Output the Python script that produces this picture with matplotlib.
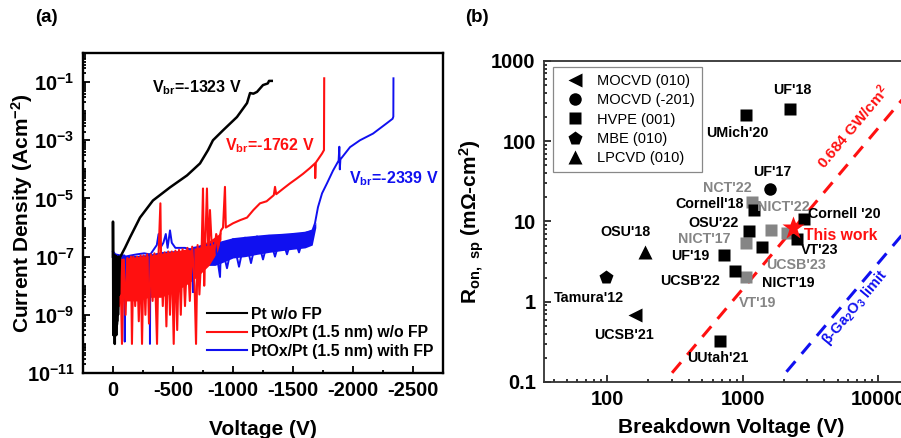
import numpy as np
import matplotlib
matplotlib.use('Agg')
import matplotlib.pyplot as plt
from matplotlib.lines import Line2D
from matplotlib.ticker import LogLocator, NullFormatter, MultipleLocator

# ---- panel (a): J-V curves ----
black_v = [0, 0, -3, -6, -9, -12, -15, -18, -21, -24, -27, -30, -34, -38, -42, -46, -50, -58,
           -100, -142, -225, -333, -475, -617, -725, -792, -833, -917, -1033, -1117, -1142,
           -1170, -1200, -1250, -1290, -1300, -1323]
black_j = [1e-7, 1.6e-6, 2e-10, 1e-7, 3e-10, 9e-8, 1e-10, 1.1e-7, 4e-10, 8e-8, 2e-10, 1e-7, 6e-10,
           9e-8, 1e-9, 1e-7, 5e-9, 9.3e-8, 2e-7, 4.6e-7, 2.2e-6, 8.5e-6, 2.4e-5, 6.2e-5, 1.6e-4,
           4.6e-4, 1e-3, 2.2e-3, 6.3e-3, 1.9e-2, 4.2e-2, 4.0e-2, 4.6e-2, 7.9e-2, 9e-2, 1.1e-1, 1.1e-1]
black_band_v = [-2, -10, -20, -30, -40, -48]
black_band_lo = [3e-10, 2e-10, 3e-10, 3e-10, 5e-10, 2e-9]
black_band_hi = [1.2e-7, 1.1e-7, 1.1e-7, 1.1e-7, 1.1e-7, 1e-7]

red_v = [-10, -15, -22, -30, -40, -50, -60, -75, -90, -105, -120, -135, -150, -158, -170, -185,
         -200, -215, -230, -242, -255, -270, -285, -300, -315, -330, -345, -367, -380, -395, -400,
         -415, -430, -445, -460, -475, -490, -506, -520, -535, -550, -565, -580, -600, -620, -640,
         -660, -680, -692, -705, -720, -740, -750, -760, -770, -783, -795, -808, -820, -840, -860,
         -880, -900, -917, -933, -940, -1000, -1060, -1117, -1170, -1225, -1280, -1340, -1350,
         -1360, -1420, -1475, -1530, -1583, -1640, -1683, -1685, -1690, -1742, -1758, -1760]
red_j = [1e-7, 3e-10, 8e-8, 5e-9, 9e-8, 2e-9, 1e-7, 1e-10, 8e-8, 1e-9, 9e-8, 4e-9, 1e-7, 1e-10,
         1e-7, 2e-9, 1e-7, 6e-10, 1.1e-7, 1e-10, 1.1e-7, 1e-9, 1.2e-7, 5e-10, 1.2e-7, 3e-9, 1.3e-7,
         1e-10, 1.3e-7, 6.8e-6, 1.4e-7, 2e-9, 1.4e-7, 4e-10, 1.5e-7, 1e-9, 1.5e-7, 1e-10, 1.6e-7,
         3e-10, 1.7e-7, 1e-9, 1.8e-7, 2e-9, 2e-7, 3e-9, 2.2e-7, 1e-8, 1e-10, 2.5e-7, 5e-9, 3e-7,
         2.2e-5, 1e-8, 3.5e-7, 2.2e-5, 1e-7, 4e-6, 4e-7, 1e-7, 6e-7, 3e-7, 8e-7, 1e-6, 2.5e-5,
         1e-6, 1.4e-6, 1.8e-6, 2.2e-6, 4e-6, 6.8e-6, 8e-6, 1.3e-5, 2.5e-5, 1.4e-5, 2.2e-5,
         3.3e-5, 4.8e-5, 7e-5, 1.1e-4, 1.6e-4, 5e-5, 1.7e-4, 3.5e-4, 4.6e-4, 0.135]
red_band_v = [-15, -100, -200, -300, -400, -500, -600, -700, -800, -870, -900]
red_band_lo = [3e-9, 3e-9, 3e-9, 4e-9, 4e-9, 6e-9, 1e-8, 2e-8, 5e-8, 1.5e-7, 4e-7]
red_band_hi = [8e-8, 9e-8, 1e-7, 1.1e-7, 1.3e-7, 1.5e-7, 1.8e-7, 2.3e-7, 3.5e-7, 5.5e-7, 7e-7]

blue_v = [0, -20, -60, -95, -98, -102, -150, -200, -260, -305, -308, -312, -365, -380, -395, -420,
          -440, -455, -475, -490, -520, -560, -600, -640, -665, -667, -670, -720, -760, -800, -850,
          -892, -900, -950, -1000, -1050, -1100, -1150, -1200, -1250, -1300, -1350, -1400, -1450,
          -1500, -1550, -1600, -1660, -1683, -1708, -1742, -1783, -1833, -1880, -1886, -1890,
          -1895, -1975, -2058, -2167, -2283, -2330, -2336, -2337]
blue_j = [1.5e-7, 1.2e-7, 1.1e-7, 1.1e-7, 1.2e-10, 1e-7, 1.1e-7, 1.2e-7, 1.3e-7, 1.2e-7, 1e-10,
          1.2e-7, 2.5e-7, 6e-7, 2e-7, 3e-7, 6e-7, 2e-7, 8e-7, 3e-7, 2e-7, 2e-7, 2e-7, 1.8e-7,
          1.8e-7, 6e-9, 2e-7, 2.2e-7, 2.5e-7, 2.5e-7, 3e-7, 2e-8, 3e-7, 4e-8, 4e-7, 4.5e-8, 4.5e-7,
          6e-8, 5e-7, 8e-8, 5.2e-7, 1e-7, 5.5e-7, 1.2e-7, 6e-7, 1.4e-7, 6.5e-7, 7.5e-7, 1.4e-6,
          5e-6, 1.5e-5, 3.3e-5, 9e-5, 2e-4, 6e-4, 1e-4, 2.2e-4, 5.8e-4, 1e-3, 1.7e-3, 3.9e-3,
          5.5e-3, 6.5e-3, 0.135]
blue_band_v = [-5, -100, -200, -300, -400, -500, -600, -700, -800, -850, -900, -1000, -1100,
               -1200, -1300, -1400, -1500, -1600, -1660, -1690]
blue_band_lo = [4e-8, 4e-8, 4e-8, 4e-8, 5e-8, 5e-8, 6e-8, 6e-8, 5e-8, 5e-8, 6e-8, 9e-8, 1e-7,
                1.2e-7, 1.4e-7, 1.6e-7, 1.8e-7, 2e-7, 2.5e-7, 1e-6]
blue_band_hi = [1.3e-7, 1.1e-7, 1.1e-7, 1.2e-7, 1.5e-7, 1.6e-7, 1.6e-7, 1.8e-7, 2.2e-7, 2.8e-7,
                3.5e-7, 4.5e-7, 5e-7, 5.5e-7, 6e-7, 6.3e-7, 6.8e-7, 7.5e-7, 9e-7, 1.5e-6]

curve_names = ['Pt w/o FP', 'PtOx/Pt (1.5 nm) w/o FP', 'PtOx/Pt (1.5 nm) with FP']
vbr_texts = ['V$_{br}$=-1323 V', 'V$_{br}$=-1762 V', 'V$_{br}$=-2339 V']
vbr_pos = [(-700, 0.063), (-1308, 6.7e-4), (-2342, 4.9e-5)]

# ---- panel (b): benchmark (V_br in V, R_on,sp in mOhm-cm2) ----
hvpe_names = ["UF'18", "UMich'20", "Cornell'18", "OSU'22", "NICT'19", "UF'19", "UCSB'22",
              "Cornell '20", "VT'23", "UUtah'21"]
hvpe_v = [2240, 1060, 1200, 1105, 1393, 722, 871, 2845, 2510, 675]
hvpe_r = [250, 212, 14, 7.6, 4.85, 3.83, 2.44, 10.7, 6.0, 0.324]
gray_names = ["NCT'22", "NICT'22", "NICT'17", "VT'19", "UCSB'23"]
gray_v = [1170, 1620, 1056, 1056, 2120]
gray_r = [17.7, 7.8, 5.35, 2.06, 7.1]
mocvd010_v, mocvd010_r = [161], [0.684]
mocvd201_v, mocvd201_r = [1575], [25.2]
mbe_v, mbe_r = [98], [2.06]
lpcvd_v, lpcvd_r = [189], [4.2]
this_v, this_r = [2339], [8.2]

# label positions (data coords)
lab_black = {"UF'18": (2307, 435), "UMich'20": (916, 128), "UF'17": (1660, 41.8),
             "Cornell'18": (569, 16.5), "OSU'22": (609, 9.66), "UF'19": (410, 3.75),
             "UCSB'22": (410, 1.83), "NICT'19": (2178, 1.73), "Cornell '20": (5615, 12.3),
             "VT'23": (3690, 4.42), "OSU'18": (137, 7.46), "Tamura'12": (72.8, 1.12),
             "UCSB'21": (133, 0.386), "UUtah'21": (656, 0.197)}
lab_gray = {"NCT'22": (764, 26.4), "NICT'22": (1982, 15.0), "NICT'17": (520, 6.0),
            "VT'19": (1274, 0.957), "UCSB'23": (2471, 2.87)}

red_lim_v, red_lim_r = [300, 20000], [0.13, 585]
blue_lim_v, blue_lim_r = [2100, 20000], [0.134, 12.1]

RED = '#ff1010'
BLUE = '#1010f0'
GRAY = '#858585'

plt.rcParams['font.family'] = ['Liberation Sans', 'DejaVu Sans']
plt.rcParams['font.weight'] = 'bold'
plt.rcParams['axes.labelweight'] = 'bold'
plt.rcParams['mathtext.default'] = 'regular'

fig = plt.figure(figsize=(9.01, 4.38), dpi=100)

# ---------------- (a) ----------------
ax1 = fig.add_axes([0.0921, 0.1484, 0.3996, 0.7306])
ax1.fill_between(blue_band_v, blue_band_lo, blue_band_hi, color=BLUE, lw=0)
ax1.plot(blue_v, blue_j, color=BLUE, lw=1.4)
ax1.fill_between(red_band_v, red_band_lo, red_band_hi, color=RED, lw=0)
ax1.plot(red_v, red_j, color=RED, lw=1.5)
ax1.fill_between(black_band_v, black_band_lo, black_band_hi, color='k', lw=0)
ax1.plot(black_v, black_j, color='k', lw=1.8)

ax1.set_yscale('log')
ax1.set_ylim(1e-11, 1)
ax1.set_xlim(250, -2750)
ax1.set_xticks([0, -500, -1000, -1500, -2000, -2500])
ax1.set_xticklabels(['0', '-500', '-1000', '-1500', '-2000', '-2500'])
ax1.xaxis.set_minor_locator(MultipleLocator(250))
yt = [1e-11, 1e-9, 1e-7, 1e-5, 1e-3, 1e-1]
ax1.set_yticks(yt)
ax1.set_yticklabels(['10$^{-11}$', '10$^{-9}$', '10$^{-7}$', '10$^{-5}$', '10$^{-3}$', '10$^{-1}$'])
ax1.yaxis.set_minor_locator(LogLocator(base=10, subs=np.arange(1, 10), numticks=40))
ax1.yaxis.set_minor_formatter(NullFormatter())
ax1.tick_params(which='both', direction='in', width=1.3, labelsize=14.5)
ax1.tick_params(which='major', length=5, pad=6)
ax1.tick_params(which='minor', length=2.5)
for s in ax1.spines.values():
    s.set_linewidth(1.7)
ax1.set_xlabel('Voltage (V)', fontsize=15, labelpad=14)
ax1.set_ylabel('Current Density (Acm$^{-2}$)', fontsize=15)
ax1.yaxis.set_label_coords(-0.134, 0.5)

for txt, pos, c in zip(vbr_texts, vbr_pos, ['k', RED, BLUE]):
    ax1.text(pos[0], pos[1], txt, color=c, fontsize=11.5, ha='center', va='center')

hl = [Line2D([], [], color=c, lw=1.5) for c in ['k', RED, BLUE]]
ax1.legend(hl, curve_names, loc='lower right', bbox_to_anchor=(1.0, 0.015), frameon=False,
           fontsize=11.3, handlelength=2.5, handletextpad=0.3, labelspacing=0.22,
           borderaxespad=0.2)

# ---------------- (b) ----------------
ax2 = fig.add_axes([0.6038, 0.1279, 0.4162, 0.7329])
ax2.set_xscale('log')
ax2.set_yscale('log')
ax2.set_xlim(34, 20000)
ax2.set_ylim(0.1, 1000)

ax2.plot(red_lim_v, red_lim_r, color=RED, lw=2.2, dashes=(4.5, 3.2))
ax2.plot(blue_lim_v, blue_lim_r, color=BLUE, lw=2.2, dashes=(4.5, 3.2))

ax2.plot(gray_v, gray_r, 's', color=GRAY, ms=8, mec='none')
ax2.plot(hvpe_v, hvpe_r, 's', color='k', ms=8, mec='none')
ax2.plot(mocvd010_v, mocvd010_r, '<', color='k', ms=9.5, mec='none')
ax2.plot(mocvd201_v, mocvd201_r, 'o', color='k', ms=9, mec='none')
ax2.plot(mbe_v, mbe_r, 'p', color='k', ms=10, mec='none')
ax2.plot(lpcvd_v, lpcvd_r, '^', color='k', ms=9.5, mec='none')
ax2.plot(this_v, this_r, '*', color=RED, ms=17, mec='none')

for name, (x, y) in lab_black.items():
    ax2.text(x, y, name, fontsize=10.3, ha='center', va='center', color='k')
for name, (x, y) in lab_gray.items():
    ax2.text(x, y, name, fontsize=10.3, ha='center', va='center', color=GRAY)
ax2.text(5310, 6.65, 'This work', fontsize=11.3, ha='center', va='center', color=RED)
ax2.text(6530, 151, '0.684 GW/cm$^2$', fontsize=11, ha='center', va='center', color=RED,
         rotation=50, rotation_mode='anchor')
ax2.text(6760, 0.835, r'$\beta$-Ga$_2$O$_3$ limit', fontsize=10.5, ha='center', va='center',
         color=BLUE, rotation=50, rotation_mode='anchor')

ax2.set_xticks([100, 1000, 10000])
ax2.set_xticklabels(['100', '1000', '10000'])
ax2.set_yticks([0.1, 1, 10, 100, 1000])
ax2.set_yticklabels(['0.1', '1', '10', '100', '1000'])
ax2.xaxis.set_minor_locator(LogLocator(base=10, subs=np.arange(2, 10), numticks=20))
ax2.xaxis.set_minor_formatter(NullFormatter())
ax2.yaxis.set_minor_locator(LogLocator(base=10, subs=np.arange(2, 10), numticks=20))
ax2.yaxis.set_minor_formatter(NullFormatter())
ax2.tick_params(which='both', direction='in', width=1.1, labelsize=14.5)
ax2.tick_params(which='major', length=5, pad=6)
ax2.tick_params(which='minor', length=2.5)
for s in ax2.spines.values():
    s.set_linewidth(1.3)
    s.set_color('#333333')
ax2.set_xlabel('Breakdown Voltage (V)', fontsize=15, labelpad=6)
ax2.set_ylabel('R$_{on,\\ sp}$ (m\u03a9-cm$^2$)', fontsize=15, labelpad=4)

mk = [('<', 9.5), ('o', 9), ('s', 8), ('p', 10), ('^', 9.5)]
hm = [Line2D([], [], marker=m, ls='none', color='k', ms=s, mec='none') for m, s in mk]
leg = ax2.legend(hm, ['MOCVD (010)', 'MOCVD (-201)', 'HVPE (001)', 'MBE (010)', 'LPCVD (010)'],
                 loc='upper left', bbox_to_anchor=(0.024, 0.981), borderaxespad=0,
                 fancybox=False, edgecolor='#888888', framealpha=1,
                 prop={'weight': 'normal', 'size': 10.5}, handletextpad=0.5,
                 labelspacing=0.35, borderpad=0.5)
leg.get_frame().set_linewidth(0.9)

fig.text(0.052, 0.961, '(a)', fontsize=13.5, ha='center', va='center')
fig.text(0.529, 0.961, '(b)', fontsize=13.5, ha='center', va='center')

fig.savefig('out.png', dpi=100)
